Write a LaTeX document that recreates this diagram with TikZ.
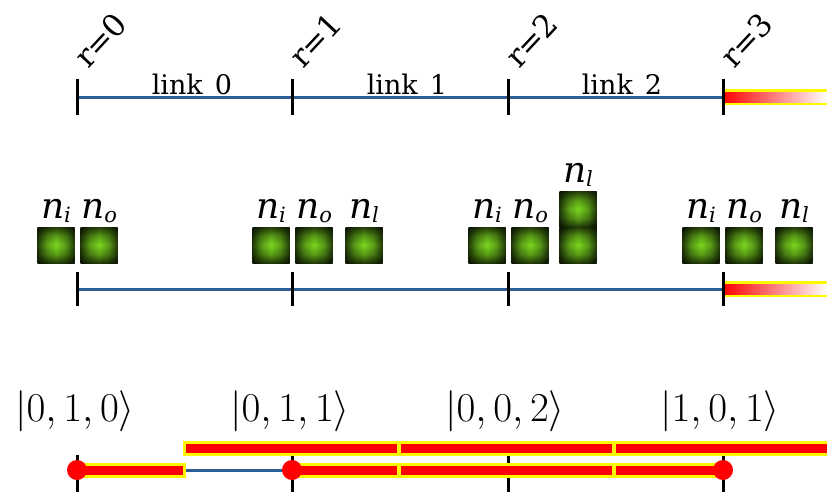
\RequirePackage{fix-cm}
\documentclass[tikz,border=0pt]{standalone}
\usepackage[no-math]{fontspec}
\newfontfamily\dvserif{DejaVu Serif}
\usetikzlibrary{positioning, calc}

\definecolor{linkblue}{RGB}{44,94,150}
\definecolor{bosongreen}{RGB}{124,216,32}
\definecolor{glowyellow}{RGB}{255,248,0}

\pgfdeclareverticalshading{bosonv}{100bp}{color(0bp)=(bosongreen!28!black); color(25bp)=(bosongreen!28!black);
  color(37.5bp)=(bosongreen!75!black); color(50bp)=(bosongreen); color(62.5bp)=(bosongreen!75!black);
  color(75bp)=(bosongreen!28!black); color(100bp)=(bosongreen!28!black)}
\pgfdeclarehorizontalshading{bosonh}{100bp}{color(0bp)=(black!72); color(25bp)=(black!72);
  color(37.5bp)=(black!25); color(50bp)=(white); color(62.5bp)=(black!25);
  color(75bp)=(black!72); color(100bp)=(black!72)}

\newcommand{\occ}[1]{n\raisebox{-4pt}{\fontsize{21}{21}\selectfont #1}}

\tikzset{
  link/.style={linkblue, line width=3pt},
  tick/.style={black, line width=3pt},
  boson/.style={minimum width=37pt, minimum height=36pt, inner sep=0pt,
    path picture={
      \shade[shading=bosonv]
        (path picture bounding box.south west) rectangle (path picture bounding box.north east);
      \shade[shading=bosonh, blend mode=multiply]
        (path picture bounding box.south west) rectangle (path picture bounding box.north east);
    }},
  occlabel/.style={font=\fontsize{36}{36}\selectfont\dvserif\itshape, inner sep=0pt, anchor=base},
  sitelabel/.style={font=\fontsize{31}{31}\selectfont\dvserif, rotate=47, anchor=base west, inner sep=0pt},
  linklabel/.style={font=\fontsize{27}{27}\selectfont\dvserif, anchor=base, inner sep=0pt},
  ketlabel/.style={font=\fontsize{41}{41}\selectfont, anchor=base, inner sep=0pt},
  glow/.style={glowyellow, line width=15pt, shorten <=-3pt, shorten >=-3pt},
  bar/.style={red, line width=9pt},
  endpoint/.style={circle, fill=red, minimum size=20pt, inner sep=0pt},
}

\begin{document}
\begin{tikzpicture}[x=1pt, y=1pt]
  \useasboundingbox (0,0) rectangle (827,-491);

  % sites on the three rows
  \foreach \x/\r in {77/0, 292/1, 508/2, 723/3} {
    \coordinate (s\r) at (\x,-97);
    \coordinate (m\r) at (\x,-289);
    \coordinate (u\r) at (\x,-470);
  }

  % top row: links
  \draw[link] (s0) -- (s3);
  \fill[glowyellow] (723,-89) rectangle (827,-105);
  \shade[left color=red, right color=white] (723,-92) rectangle (827,-102);
  \foreach \r in {0,...,3} {
    \draw[tick] ([yshift=18pt]s\r) -- ([yshift=-18pt]s\r);
    \node[sitelabel] (r\r) at ([xshift=11pt, yshift=27pt]s\r) {r=\r};
  }
  \node[linklabel] (l0) at (192,-94) {link\hspace{0.45em}0};
  \node[linklabel] (l1) at (407,-94) {link\hspace{0.45em}1};
  \node[linklabel] (l2) at (622,-94) {link\hspace{0.45em}2};

  % middle row: occupations
  \draw[link] (m0) -- (m3);
  \fill[glowyellow] (723,-281) rectangle (827,-297);
  \shade[left color=red, right color=white] (723,-284) rectangle (827,-294);
  \foreach \r in {0,...,3}
    \draw[tick] ([yshift=17pt]m\r) -- ([yshift=-17pt]m\r);

  \node[boson] (b0i) at (56,-245) {};
  \node[boson] (b0o) at (99,-245) {};
  \node[boson] (b1i) at (271,-245) {};
  \node[boson] (b1o) at (314,-245) {};
  \node[boson] (b1l) at (364,-245) {};
  \node[boson] (b2i) at (487,-245) {};
  \node[boson] (b2o) at (530,-245) {};
  \node[boson] (b2l) at (578,-245) {};
  \node[boson] (b2ll) at (578,-209) {};
  \node[boson] (b3i) at (701,-245) {};
  \node[boson] (b3o) at (744,-245) {};
  \node[boson] (b3l) at (794,-245) {};

  \node[occlabel] (n0i) at ([yshift=8pt]b0i.north) {\occ{i}};
  \node[occlabel] (n0o) at ([yshift=8pt]b0o.north) {\occ{o}};
  \node[occlabel] (n1i) at ([yshift=8pt]b1i.north) {\occ{i}};
  \node[occlabel] (n1o) at ([yshift=8pt]b1o.north) {\occ{o}};
  \node[occlabel] (n1l) at ([yshift=8pt]b1l.north) {\occ{l}};
  \node[occlabel] (n2i) at ([yshift=8pt]b2i.north) {\occ{i}};
  \node[occlabel] (n2o) at ([yshift=8pt]b2o.north) {\occ{o}};
  \node[occlabel] (n2l) at ([yshift=8pt]b2ll.north) {\occ{l}};
  \node[occlabel] (n3i) at ([yshift=8pt]b3i.north) {\occ{i}};
  \node[occlabel] (n3o) at ([yshift=8pt]b3o.north) {\occ{o}};
  \node[occlabel] (n3l) at ([yshift=8pt]b3l.north) {\occ{l}};

  % bottom row: strings
  \foreach \r in {0,...,3}
    \draw[tick] ([yshift=15pt]u\r) -- ([yshift=-22pt]u\r);
  \draw[link] (u0) -- (u1);

  \coordinate (a0) at (183,-470);
  \coordinate (b0) at (186,-448);
  \coordinate (b1) at (397,-448);
  \coordinate (b2) at (401,-448);
  \coordinate (b3) at (612,-448);
  \coordinate (b4) at (616,-448);
  \coordinate (b5) at (830,-448);
  \coordinate (c1) at (397,-470);
  \coordinate (c2) at (401,-470);
  \coordinate (c3) at (612,-470);
  \coordinate (c4) at (616,-470);

  \draw[glow] (u0) -- (a0); \draw[bar] (u0) -- (a0);
  \draw[glow] (b0) -- (b1); \draw[bar] (b0) -- (b1);
  \draw[glow] (b2) -- (b3); \draw[bar] (b2) -- (b3);
  \draw[glow] (b4) -- (b5); \draw[bar] (b4) -- (b5);
  \draw[glow] (u1) -- (c1); \draw[bar] (u1) -- (c1);
  \draw[glow] (c2) -- (c3); \draw[bar] (c2) -- (c3);
  \draw[glow] (c4) -- (u3); \draw[bar] (c4) -- (u3);

  \node[endpoint] (e0) at (u0) {};
  \node[endpoint] (e1) at (u1) {};
  \node[endpoint] (e3) at (u3) {};

  \node[ketlabel] (k0) at (75,-421) {$|0,1,0\rangle$};
  \node[ketlabel] (k1) at (290,-421) {$|0,1,1\rangle$};
  \node[ketlabel] (k2) at (505,-421) {$|0,0,2\rangle$};
  \node[ketlabel] (k3) at (720,-421) {$|1,0,1\rangle$};
\end{tikzpicture}
\end{document}
